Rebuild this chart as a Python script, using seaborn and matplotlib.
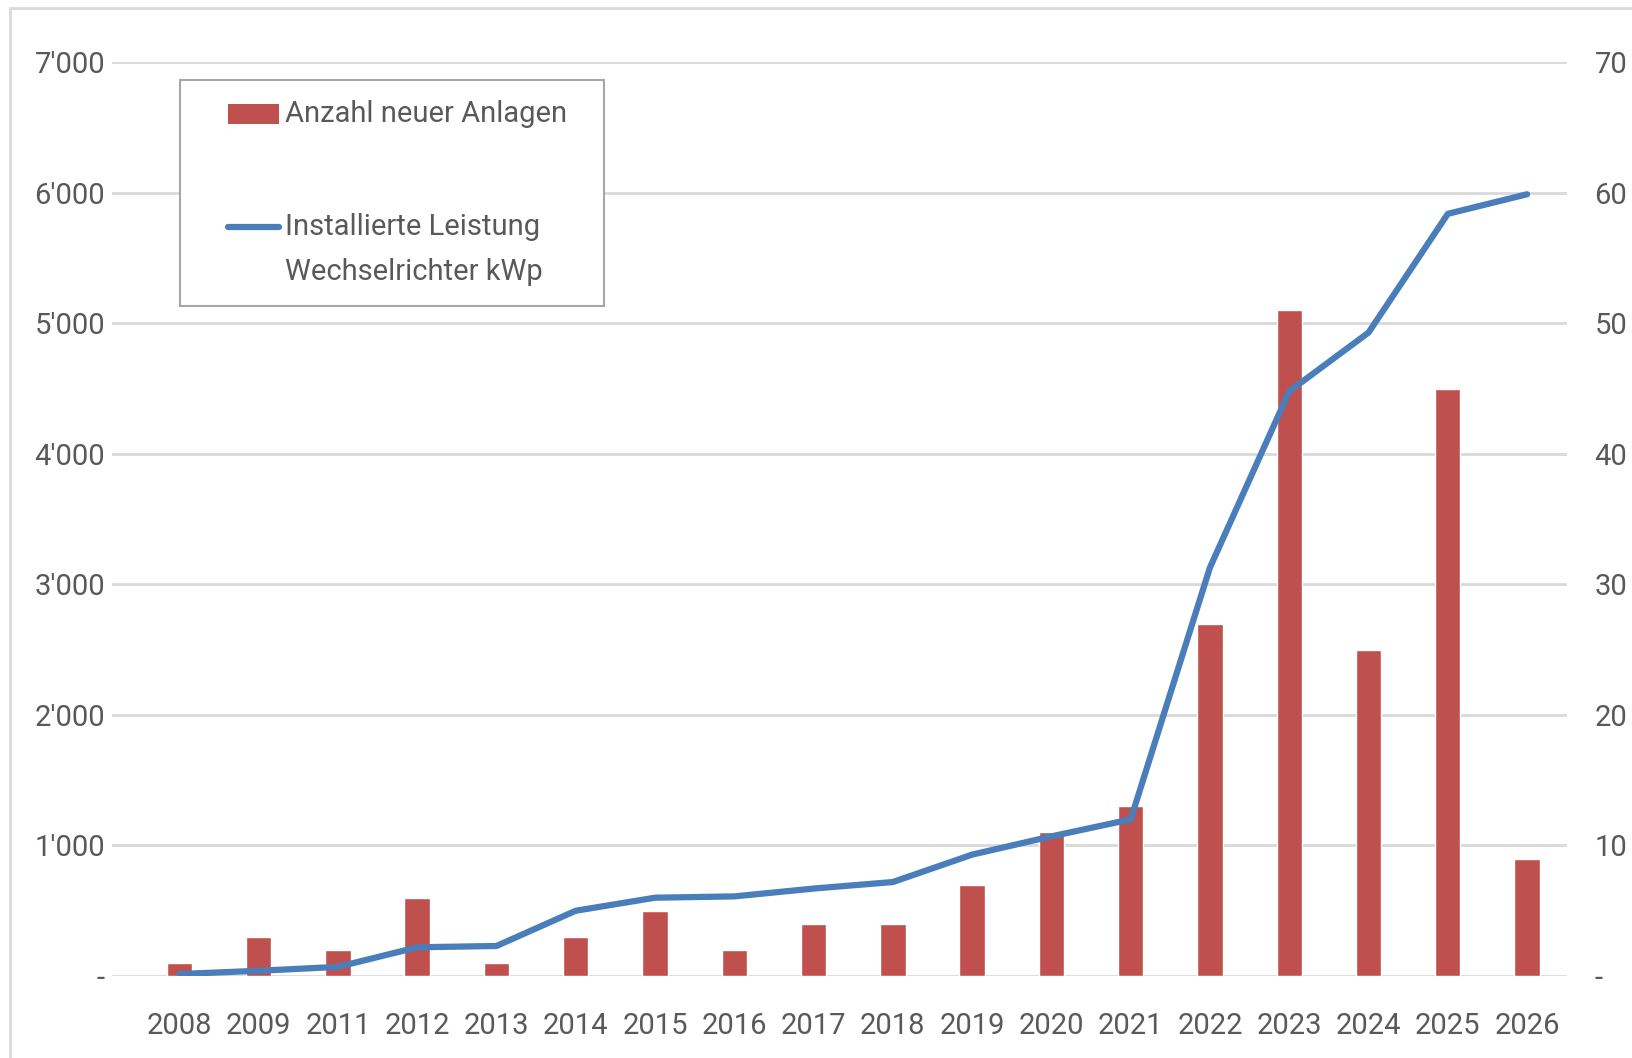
import numpy as np
import matplotlib
matplotlib.use("Agg")
import matplotlib.pyplot as plt
import seaborn as sns
from matplotlib.lines import Line2D
from matplotlib.patches import Rectangle
from matplotlib.ticker import FixedLocator

# Daten
jahre = ["2008", "2009", "2011", "2012", "2013", "2014", "2015", "2016", "2017",
         "2018", "2019", "2020", "2021", "2022", "2023", "2024", "2025", "2026"]
anzahl_anlagen = [100, 300, 200, 600, 100, 300, 500, 200, 400,
                  400, 700, 1100, 1300, 2700, 5100, 2500, 4500, 900]
leistung_kwp = [150, 400, 700, 2200, 2300, 5000, 6000, 6100, 6700,
                7200, 9300, 10700, 12000, 31300, 44800, 49300, 58400, 59900]

links_ticks = [0, 1000, 2000, 3000, 4000, 5000, 6000, 7000]
links_labels = ["-", "1'000", "2'000", "3'000", "4'000", "5'000", "6'000", "7'000"]
rechts_ticks = [0, 10000, 20000, 30000, 40000, 50000, 60000, 70000]
# rechte Achse ist im Original am Bildrand abgeschnitten
rechts_labels = ["-", "10", "20", "30", "40", "50", "60", "70"]

rot = "#C0504D"
blau = "#4A7EBB"
grau_text = "#595959"
W, H = 1632, 1058

sns.set_style("white")
plt.rcParams["font.family"] = ["Roboto", "DejaVu Sans"]

fig = plt.figure(figsize=(W / 100, H / 100), dpi=100)
ax = fig.add_axes([0.0686, 0.0775, 0.8914, 0.8635])

sns.barplot(x=jahre, y=anzahl_anlagen, color=rot, width=0.32, saturation=1, ax=ax)
ax.set_ylim(0, 7000)
ax.set_xlim(-0.85, 17.5)
ax.yaxis.set_major_locator(FixedLocator(links_ticks))
ax.set_yticklabels(links_labels)
ax.grid(axis="y", color="#D9D9D9", linewidth=2)
ax.set_axisbelow(True)
for s in ax.spines.values():
    s.set_visible(False)
ax.tick_params(axis="both", length=0, labelsize=21, colors=grau_text)
ax.tick_params(axis="y", pad=5)
ax.tick_params(axis="x", pad=26)
ax.set_xlabel("")
ax.set_ylabel("")

ax2 = ax.twinx()
sns.lineplot(x=np.arange(len(jahre)), y=leistung_kwp, color=blau, linewidth=4.5, ax=ax2)
ax2.set_ylim(0, 70000)
ax2.yaxis.set_major_locator(FixedLocator(rechts_ticks))
ax2.set_yticklabels(rechts_labels)
for s in ax2.spines.values():
    s.set_visible(False)
ax2.tick_params(axis="y", length=0, labelsize=21, colors=grau_text, pad=20)
ax2.set_ylabel("")
ax2.set_xlim(-0.85, 17.5)


def px(x, y):
    return x / W, 1 - y / H


# Legende (von Hand, wie im Original)
x0, y0 = px(180, 80)
x1, y1 = px(604, 306)
fig.patches.append(Rectangle((x0, y1), x1 - x0, y0 - y1, transform=fig.transFigure,
                             facecolor="white", edgecolor="#A6A6A6", linewidth=1.5, zorder=5))
fig.patches.append(Rectangle(px(228, 124), (279 - 228) / W, 20 / H, transform=fig.transFigure,
                             facecolor=rot, edgecolor="none", zorder=6))
lx0, ly = px(228, 227)
lx1, _ = px(279, 227)
fig.lines.append(Line2D([lx0, lx1], [ly, ly], transform=fig.transFigure, color=blau,
                        linewidth=4.5, solid_capstyle="round", zorder=6))
fig.text(*px(285, 114), "Anzahl neuer Anlagen", fontsize=21, color=grau_text,
         va="center", ha="left", zorder=7)
fig.text(*px(285, 227), "Installierte Leistung", fontsize=21, color=grau_text,
         va="center", ha="left", zorder=7)
fig.text(*px(285, 272), "Wechselrichter kWp", fontsize=21, color=grau_text,
         va="center", ha="left", zorder=7)

# Rahmen um das Bild
fig.patches.append(Rectangle(px(10, H + 20), 1.2, (H + 12) / H, transform=fig.transFigure,
                             fill=False, edgecolor="#D9D9D9", linewidth=2))

fig.savefig("out.png", dpi=100)
